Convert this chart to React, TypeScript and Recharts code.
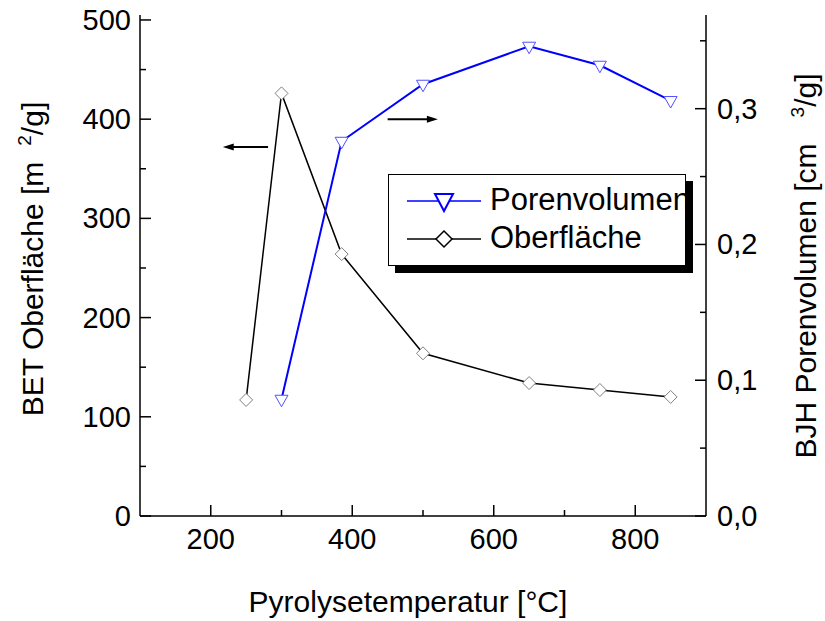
import React from "react";
import {
  ComposedChart,
  Line,
  XAxis,
  YAxis,
  Legend,
  ReferenceLine,
} from "recharts";

// Pyrolysetemperatur [°C]
const oberTemps = [250, 300, 385, 500, 650, 750, 850];
const oberflaeche = [117, 426, 264, 164, 134, 127, 120];

const porenTemps = [300, 385, 500, 650, 750, 850];
const porenvolumen = [0.086, 0.276, 0.318, 0.346, 0.332, 0.306];

const xTicks = [200, 300, 400, 500, 600, 700, 800];
const leftTicks = [0, 50, 100, 150, 200, 250, 300, 350, 400, 450, 500];
const rightTicks = [0, 0.05, 0.1, 0.15, 0.2, 0.25, 0.3, 0.35];

const oberData = oberTemps.map((t, i) => ({ t, v: oberflaeche[i] }));
const porenData = porenTemps.map((t, i) => ({ t, v: porenvolumen[i] }));

const FONT = "'Liberation Sans', Arial, sans-serif";
const BLUE = "#0000ff";

const XTick = (props: any) => {
  const { x, y, payload } = props;
  const major = payload.value % 200 === 0;
  return (
    <g>
      <line x1={x} x2={x} y1={y} y2={y - (major ? 11 : 6)} stroke="#000" strokeWidth={1.5} />
      {major && (
        <text x={x} y={y + 33} textAnchor="middle" fontSize={29} fontFamily={FONT} fill="#000">
          {payload.value}
        </text>
      )}
    </g>
  );
};

const LeftTick = (props: any) => {
  const { x, y, payload } = props;
  const major = payload.value % 100 === 0;
  return (
    <g>
      <line x1={x} x2={x + (major ? 11 : 6)} y1={y} y2={y} stroke="#000" strokeWidth={1.5} />
      {major && (
        <text x={x - 9} y={y + 10} textAnchor="end" fontSize={29} fontFamily={FONT} fill="#000">
          {payload.value}
        </text>
      )}
    </g>
  );
};

const RightTick = (props: any) => {
  const { x, y, payload } = props;
  const k = Math.round(payload.value * 100);
  const major = k % 10 === 0;
  return (
    <g>
      <line x1={x} x2={x - (major ? 11 : 6)} y1={y} y2={y} stroke="#000" strokeWidth={1.5} />
      {major && (
        <text x={x + 11} y={y + 10} textAnchor="start" fontSize={29} fontFamily={FONT} fill="#000">
          {(k / 100).toFixed(1).replace(".", ",")}
        </text>
      )}
    </g>
  );
};

const Diamond = (props: any) => {
  const { cx, cy } = props;
  if (cx == null || cy == null) return null;
  const r = 6.5;
  return (
    <polygon
      points={`${cx},${cy - r} ${cx + r},${cy} ${cx},${cy + r} ${cx - r},${cy}`}
      fill="#fff"
      stroke="#808080"
      strokeWidth={1}
    />
  );
};

const Triangle = (props: any) => {
  const { cx, cy } = props;
  if (cx == null || cy == null) return null;
  return (
    <polygon
      points={`${cx - 6.5},${cy - 4} ${cx + 6.5},${cy - 4} ${cx},${cy + 7.5}`}
      fill="#fff"
      stroke="#5050ff"
      strokeWidth={1}
    />
  );
};

const Arrow = (props: any) => {
  const { x1, y1, x2, y2 } = props;
  const dir = x2 > x1 ? 1 : -1;
  return (
    <g>
      <line x1={x1} y1={y1} x2={x2 - dir * 8} y2={y2} stroke="#000" strokeWidth={2} />
      <polygon
        points={`${x2},${y2} ${x2 - dir * 11},${y2 - 3.5} ${x2 - dir * 11},${y2 + 3.5}`}
        fill="#000"
      />
    </g>
  );
};

const LegendBox = () => (
  <div
    style={{
      width: 296,
      height: 90,
      border: "1px solid #000",
      background: "#fff",
      boxShadow: "7px 7px 0 #000",
      overflow: "hidden",
      position: "relative",
      fontFamily: FONT,
      fontSize: 31,
      color: "#000",
    }}
  >
    <svg width={90} height={90} style={{ position: "absolute", left: 14, top: 0 }}>
      <line x1={4} x2={78} y1={26} y2={26} stroke={BLUE} strokeWidth={1.5} />
      <polygon points="32,19 50,19 41,36" fill="#fff" stroke={BLUE} strokeWidth={2} />
      <line x1={4} x2={78} y1={64} y2={64} stroke="#000" strokeWidth={1.5} />
      <polygon points="41,56 49,64 41,72 33,64" fill="#fff" stroke="#000" strokeWidth={1.5} />
    </svg>
    <div style={{ position: "absolute", left: 101, top: 7, whiteSpace: "nowrap", lineHeight: "36px" }}>
      Porenvolumen
    </div>
    <div style={{ position: "absolute", left: 101, top: 45, whiteSpace: "nowrap", lineHeight: "36px" }}>
      Oberfläche
    </div>
  </div>
);

export default function App() {
  return (
    <div style={{ position: "absolute", left: 0, top: 0, background: "#fff" }}>
      <ComposedChart width={825} height={621} margin={{ top: 15, right: 0, bottom: 0, left: 0 }}>
        <XAxis
          dataKey="t"
          type="number"
          domain={[100, 900]}
          ticks={xTicks}
          height={105}
          tickSize={0}
          tickMargin={0}
          tickLine={false}
          tick={<XTick />}
          axisLine={{ stroke: "#000", strokeWidth: 1.5 }}
          allowDataOverflow
          label={{
            content: () => (
              <text x={408} y={612} textAnchor="middle" fontSize={30} fontFamily={FONT} fill="#000">
                Pyrolysetemperatur [°C]
              </text>
            ),
          }}
        />
        <XAxis
          xAxisId="top"
          orientation="top"
          type="number"
          domain={[100, 900]}
          height={0}
          tick={false}
          tickLine={false}
          axisLine={{ stroke: "#000", strokeWidth: 1.5 }}
        />
        <YAxis
          yAxisId="left"
          type="number"
          domain={[0, 505]}
          ticks={leftTicks}
          width={140}
          tickSize={0}
          tickMargin={0}
          tickLine={false}
          tick={<LeftTick />}
          axisLine={{ stroke: "#000", strokeWidth: 1.5 }}
          allowDataOverflow
          label={{
            content: () => (
              <text
                x={43}
                y={259}
                transform="rotate(-90, 43, 259)"
                textAnchor="middle"
                fontSize={30}
                fontFamily={FONT}
                fill="#000"
              >
                BET Oberfläche [m
                <tspan dx={16} dy={-12} fontSize={19}>2</tspan>
                <tspan dy={12}>/g]</tspan>
              </text>
            ),
          }}
        />
        <YAxis
          yAxisId="right"
          orientation="right"
          type="number"
          domain={[0, 0.369]}
          ticks={rightTicks}
          width={119}
          tickSize={0}
          tickMargin={0}
          tickLine={false}
          tick={<RightTick />}
          axisLine={{ stroke: "#000", strokeWidth: 1.5 }}
          allowDataOverflow
          label={{
            content: () => (
              <text
                x={816}
                y={266}
                transform="rotate(-90, 816, 266)"
                textAnchor="middle"
                fontSize={30}
                fontFamily={FONT}
                fill="#000"
              >
                BJH Porenvolumen [cm
                <tspan dx={26} dy={-12} fontSize={19}>3</tspan>
                <tspan dy={12}>/g]</tspan>
              </text>
            ),
          }}
        />
        <ReferenceLine
          yAxisId="left"
          segment={[{ x: 281, y: 372 }, { x: 217, y: 372 }]}
          shape={<Arrow />}
        />
        <ReferenceLine
          yAxisId="left"
          segment={[{ x: 450, y: 400 }, { x: 521, y: 400 }]}
          shape={<Arrow />}
        />
        <Line
          yAxisId="left"
          data={oberData}
          dataKey="v"
          name="Oberfläche"
          stroke="#000"
          strokeWidth={1.5}
          dot={<Diamond />}
          activeDot={false}
          isAnimationActive={false}
        />
        <Line
          yAxisId="right"
          data={porenData}
          dataKey="v"
          name="Porenvolumen"
          stroke={BLUE}
          strokeWidth={2}
          dot={<Triangle />}
          activeDot={false}
          isAnimationActive={false}
        />
        <Legend
          layout="vertical"
          align="center"
          verticalAlign="middle"
          content={<LegendBox />}
          wrapperStyle={{ position: "absolute", left: 388, top: 174, width: 298, height: 92 }}
        />
      </ComposedChart>
    </div>
  );
}
